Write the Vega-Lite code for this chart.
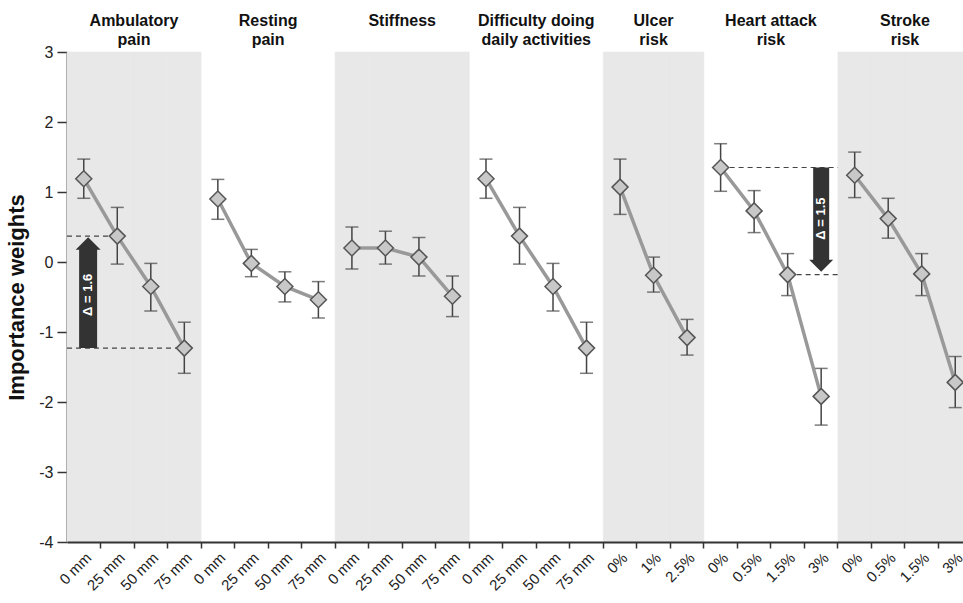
{
  "$schema": "https://vega.github.io/schema/vega-lite/v6.json",
  "width": 896,
  "height": 490,
  "autosize": "none",
  "padding": {"left": 67, "top": 52, "right": 0, "bottom": 61},
  "background": "white",
  "config": {"view": {"stroke": null}, "font": "Liberation Sans"},
  "datasets": {
    "pts": [
      {"group": "Ambulatory pain", "level": "0 mm", "key": "Ambulatory pain|0 mm", "w": 1.19, "lo": 0.91, "hi": 1.47},
      {"group": "Ambulatory pain", "level": "25 mm", "key": "Ambulatory pain|25 mm", "w": 0.37, "lo": -0.03, "hi": 0.78},
      {"group": "Ambulatory pain", "level": "50 mm", "key": "Ambulatory pain|50 mm", "w": -0.35, "lo": -0.70, "hi": -0.02},
      {"group": "Ambulatory pain", "level": "75 mm", "key": "Ambulatory pain|75 mm", "w": -1.23, "lo": -1.59, "hi": -0.86},
      {"group": "Resting pain", "level": "0 mm", "key": "Resting pain|0 mm", "w": 0.90, "lo": 0.61, "hi": 1.18},
      {"group": "Resting pain", "level": "25 mm", "key": "Resting pain|25 mm", "w": -0.02, "lo": -0.21, "hi": 0.18},
      {"group": "Resting pain", "level": "50 mm", "key": "Resting pain|50 mm", "w": -0.35, "lo": -0.57, "hi": -0.14},
      {"group": "Resting pain", "level": "75 mm", "key": "Resting pain|75 mm", "w": -0.54, "lo": -0.80, "hi": -0.28},
      {"group": "Stiffness", "level": "0 mm", "key": "Stiffness|0 mm", "w": 0.20, "lo": -0.10, "hi": 0.50},
      {"group": "Stiffness", "level": "25 mm", "key": "Stiffness|25 mm", "w": 0.20, "lo": -0.03, "hi": 0.44},
      {"group": "Stiffness", "level": "50 mm", "key": "Stiffness|50 mm", "w": 0.07, "lo": -0.20, "hi": 0.35},
      {"group": "Stiffness", "level": "75 mm", "key": "Stiffness|75 mm", "w": -0.49, "lo": -0.78, "hi": -0.20},
      {"group": "Difficulty doing daily activities", "level": "0 mm", "key": "Difficulty doing daily activities|0 mm", "w": 1.19, "lo": 0.91, "hi": 1.47},
      {"group": "Difficulty doing daily activities", "level": "25 mm", "key": "Difficulty doing daily activities|25 mm", "w": 0.37, "lo": -0.03, "hi": 0.78},
      {"group": "Difficulty doing daily activities", "level": "50 mm", "key": "Difficulty doing daily activities|50 mm", "w": -0.35, "lo": -0.70, "hi": -0.02},
      {"group": "Difficulty doing daily activities", "level": "75 mm", "key": "Difficulty doing daily activities|75 mm", "w": -1.23, "lo": -1.59, "hi": -0.86},
      {"group": "Ulcer risk", "level": "0%", "key": "Ulcer risk|0%", "w": 1.07, "lo": 0.68, "hi": 1.47},
      {"group": "Ulcer risk", "level": "1%", "key": "Ulcer risk|1%", "w": -0.19, "lo": -0.43, "hi": 0.07},
      {"group": "Ulcer risk", "level": "2.5%", "key": "Ulcer risk|2.5%", "w": -1.08, "lo": -1.33, "hi": -0.82},
      {"group": "Heart attack risk", "level": "0%", "key": "Heart attack risk|0%", "w": 1.35, "lo": 1.01, "hi": 1.69},
      {"group": "Heart attack risk", "level": "0.5%", "key": "Heart attack risk|0.5%", "w": 0.73, "lo": 0.42, "hi": 1.02},
      {"group": "Heart attack risk", "level": "1.5%", "key": "Heart attack risk|1.5%", "w": -0.18, "lo": -0.48, "hi": 0.12},
      {"group": "Heart attack risk", "level": "3%", "key": "Heart attack risk|3%", "w": -1.92, "lo": -2.33, "hi": -1.52},
      {"group": "Stroke risk", "level": "0%", "key": "Stroke risk|0%", "w": 1.24, "lo": 0.92, "hi": 1.57},
      {"group": "Stroke risk", "level": "0.5%", "key": "Stroke risk|0.5%", "w": 0.62, "lo": 0.34, "hi": 0.91},
      {"group": "Stroke risk", "level": "1.5%", "key": "Stroke risk|1.5%", "w": -0.17, "lo": -0.48, "hi": 0.12},
      {"group": "Stroke risk", "level": "3%", "key": "Stroke risk|3%", "w": -1.72, "lo": -2.08, "hi": -1.35}
    ],
    "arrows": [
      {"key": "Ambulatory pain|0 mm", "from": -1.23, "to": 0.35, "mid": -0.47, "label": "Δ = 1.6", "dir": "up"},
      {"key": "Heart attack risk|3%", "from": 1.35, "to": -0.14, "mid": 0.62, "label": "Δ = 1.5", "dir": "down"}
    ]
  },
  "layer": [
    {
      "data": {"name": "pts"},
      "transform": [{"filter": "indexof(['Ambulatory pain','Stiffness','Ulcer risk','Stroke risk'], datum.group) >= 0"}],
      "mark": {"type": "rect", "fill": "#e8e8e8", "stroke": "#e8e8e8", "strokeWidth": 0.6},
      "encoding": {
        "x": {
          "field": "key", "type": "nominal", "sort": null,
          "scale": {
            "type": "band", "paddingInner": 0, "paddingOuter": 0, "range": [0, 905],
            "domain": ["Ambulatory pain|0 mm","Ambulatory pain|25 mm","Ambulatory pain|50 mm","Ambulatory pain|75 mm","Resting pain|0 mm","Resting pain|25 mm","Resting pain|50 mm","Resting pain|75 mm","Stiffness|0 mm","Stiffness|25 mm","Stiffness|50 mm","Stiffness|75 mm","Difficulty doing daily activities|0 mm","Difficulty doing daily activities|25 mm","Difficulty doing daily activities|50 mm","Difficulty doing daily activities|75 mm","Ulcer risk|0%","Ulcer risk|1%","Ulcer risk|2.5%","Heart attack risk|0%","Heart attack risk|0.5%","Heart attack risk|1.5%","Heart attack risk|3%","Stroke risk|0%","Stroke risk|0.5%","Stroke risk|1.5%","Stroke risk|3%"]
          },
          "axis": {
            "title": null, "bandPosition": 1,
            "labelExpr": "split(datum.value, '|')[1]",
            "labelAngle": -45, "labelAlign": "right", "labelBaseline": "top",
            "labelFontSize": 15, "labelColor": "#222", "labelPadding": 2,
            "labelDx": -4, "labelDy": 1,
            "labelOverlap": false, "labelBound": false,
            "tickColor": "#333", "tickWidth": 1.5, "tickSize": 6,
            "domainColor": "#333", "domainWidth": 2, "grid": false
          }
        },
        "y": {
          "datum": -4, "type": "quantitative",
          "scale": {"domain": [-4, 3], "nice": false, "zero": false},
          "axis": {
            "title": "Importance weights", "values": [-4, -3, -2, -1, 0, 1, 2, 3],
            "labelExpr": "'' + datum.value",
            "labelFontSize": 16, "labelColor": "#222", "labelPadding": 4,
            "titleFontSize": 22, "titleFontWeight": "bold", "titleColor": "#111", "titlePadding": 10,
            "tickSize": 10, "tickColor": "#333", "tickWidth": 1.5,
            "domainColor": "#333", "domainWidth": 2, "grid": false
          }
        },
        "y2": {"datum": 3}
      }
    },
    {
      "mark": {"type": "rule", "color": "#222", "strokeWidth": 2},
      "encoding": {"y": {"datum": 3, "type": "quantitative"}}
    },
    {
      "mark": {"type": "rule", "color": "#333", "strokeWidth": 1.5},
      "encoding": {"y": {"datum": 0, "type": "quantitative"}}
    },
    {
      "data": {"values": [
        {"from": "Ambulatory pain|0 mm", "to": "Ambulatory pain|25 mm", "v": 0.37},
        {"from": "Ambulatory pain|0 mm", "to": "Ambulatory pain|75 mm", "v": -1.23}
      ]},
      "mark": {"type": "rule", "color": "#444", "strokeWidth": 1.2, "strokeDash": [5, 4]},
      "encoding": {
        "x": {"field": "from", "type": "nominal", "bandPosition": 0},
        "x2": {"field": "to", "bandPosition": 0.5},
        "y": {"field": "v", "type": "quantitative"}
      }
    },
    {
      "data": {"values": [
        {"from": "Heart attack risk|0%", "to": "Heart attack risk|3%", "v": 1.35},
        {"from": "Heart attack risk|1.5%", "to": "Heart attack risk|3%", "v": -0.18}
      ]},
      "mark": {"type": "rule", "color": "#444", "strokeWidth": 1.2, "strokeDash": [5, 4]},
      "encoding": {
        "x": {"field": "from", "type": "nominal", "bandPosition": 0.5},
        "x2": {"field": "to", "bandPosition": 1},
        "y": {"field": "v", "type": "quantitative"}
      }
    },
    {
      "data": {"name": "pts"},
      "mark": {"type": "rule", "color": "#444", "strokeWidth": 1.5},
      "encoding": {
        "x": {"field": "key", "type": "nominal"},
        "y": {"field": "lo", "type": "quantitative"},
        "y2": {"field": "hi"}
      }
    },
    {
      "data": {"name": "pts"},
      "mark": {"type": "tick", "color": "#444", "size": 13, "thickness": 1.5, "orient": "horizontal"},
      "encoding": {
        "x": {"field": "key", "type": "nominal"},
        "y": {"field": "lo", "type": "quantitative"}
      }
    },
    {
      "data": {"name": "pts"},
      "mark": {"type": "tick", "color": "#444", "size": 13, "thickness": 1.5, "orient": "horizontal"},
      "encoding": {
        "x": {"field": "key", "type": "nominal"},
        "y": {"field": "hi", "type": "quantitative"}
      }
    },
    {
      "data": {"name": "pts"},
      "mark": {"type": "line", "color": "#999", "strokeWidth": 3.5},
      "encoding": {
        "x": {"field": "key", "type": "nominal"},
        "y": {"field": "w", "type": "quantitative"},
        "detail": {"field": "group"}
      }
    },
    {
      "data": {"name": "pts"},
      "mark": {"type": "point", "shape": "diamond", "size": 256, "filled": true, "fill": "#c8c8c8", "stroke": "#555", "strokeWidth": 1.5, "opacity": 1},
      "encoding": {
        "x": {"field": "key", "type": "nominal"},
        "y": {"field": "w", "type": "quantitative"}
      }
    },
    {
      "data": {"name": "arrows"},
      "transform": [{"filter": "datum.dir == 'up'"}],
      "layer": [
        {
          "mark": {"type": "rule", "color": "#333", "strokeWidth": 18, "y2Offset": 11},
          "encoding": {
            "x": {"field": "key", "type": "nominal", "bandPosition": 0.63},
            "y": {"field": "from", "type": "quantitative"},
            "y2": {"field": "to"}
          }
        },
        {
          "mark": {"type": "point", "shape": "M-1,0.5L1,0.5L0,-0.5Z", "size": 625, "filled": true, "color": "#333", "opacity": 1, "yOffset": 6},
          "encoding": {
            "x": {"field": "key", "type": "nominal", "bandPosition": 0.63},
            "y": {"field": "to", "type": "quantitative"}
          }
        },
        {
          "mark": {"type": "text", "color": "white", "fontSize": 13, "fontWeight": "bold", "angle": 270, "align": "center", "baseline": "middle"},
          "encoding": {
            "x": {"field": "key", "type": "nominal", "bandPosition": 0.63},
            "y": {"field": "mid", "type": "quantitative"},
            "text": {"field": "label"}
          }
        }
      ]
    },
    {
      "data": {"name": "arrows"},
      "transform": [{"filter": "datum.dir == 'down'"}],
      "layer": [
        {
          "mark": {"type": "rule", "color": "#333", "strokeWidth": 16, "y2Offset": -11},
          "encoding": {
            "x": {"field": "key", "type": "nominal"},
            "y": {"field": "from", "type": "quantitative"},
            "y2": {"field": "to"}
          }
        },
        {
          "mark": {"type": "point", "shape": "M-1,-0.5L1,-0.5L0,0.5Z", "size": 576, "filled": true, "color": "#333", "opacity": 1, "yOffset": -6},
          "encoding": {
            "x": {"field": "key", "type": "nominal"},
            "y": {"field": "to", "type": "quantitative"}
          }
        },
        {
          "mark": {"type": "text", "color": "white", "fontSize": 13, "fontWeight": "bold", "angle": 270, "align": "center", "baseline": "middle"},
          "encoding": {
            "x": {"field": "key", "type": "nominal"},
            "y": {"field": "mid", "type": "quantitative"},
            "text": {"field": "label"}
          }
        }
      ]
    },
    {
      "data": {"values": [
        {"key": "Ambulatory pain|25 mm", "t": "Ambulatory\npain"},
        {"key": "Resting pain|25 mm", "t": "Resting\npain"},
        {"key": "Stiffness|25 mm", "t": "Stiffness"},
        {"key": "Difficulty doing daily activities|25 mm", "t": "Difficulty doing\ndaily activities"},
        {"key": "Heart attack risk|0.5%", "t": "Heart attack\nrisk"},
        {"key": "Stroke risk|0.5%", "t": "Stroke\nrisk"}
      ]},
      "mark": {"type": "text", "fontSize": 16, "fontWeight": "bold", "color": "#111", "lineBreak": "\n", "lineHeight": 19, "align": "center", "baseline": "top", "dy": -39},
      "encoding": {
        "x": {"field": "key", "type": "nominal", "bandPosition": 1},
        "y": {"datum": 3, "type": "quantitative"},
        "text": {"field": "t"}
      }
    },
    {
      "data": {"values": [
        {"key": "Ulcer risk|1%", "t": "Ulcer\nrisk"}
      ]},
      "mark": {"type": "text", "fontSize": 16, "fontWeight": "bold", "color": "#111", "lineBreak": "\n", "lineHeight": 19, "align": "center", "baseline": "top", "dy": -39},
      "encoding": {
        "x": {"field": "key", "type": "nominal"},
        "y": {"datum": 3, "type": "quantitative"},
        "text": {"field": "t"}
      }
    }
  ]
}
